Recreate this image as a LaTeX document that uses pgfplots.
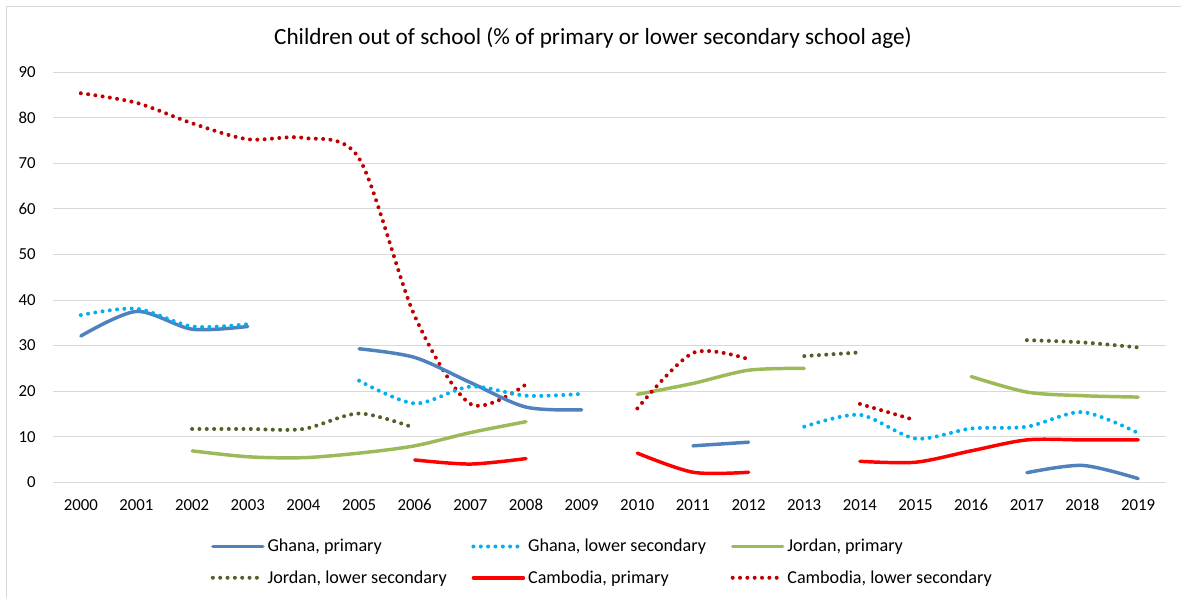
\documentclass[border=0pt]{standalone}
\usepackage{fontspec}
\setmainfont{Carlito}
\usepackage{pgfplots}
\pgfplotsset{compat=1.18}

\definecolor{ghanaP}{HTML}{4F81BD}
\definecolor{ghanaL}{HTML}{00B0F0}
\definecolor{jordanP}{HTML}{9BBB59}
\definecolor{jordanL}{HTML}{4F6228}
\definecolor{cambP}{HTML}{FF0000}
\definecolor{cambL}{HTML}{C00000}
\definecolor{gridgray}{HTML}{D9D9D9}

\tikzset{
  solidser/.style={line width=2.6pt, line cap=round, line join=round, smooth, tension=0.5},
  dotser/.style={line width=3pt, line cap=round, dash pattern=on 0pt off 5.5pt, smooth, tension=0.5},
}

\begin{document}
\begin{tikzpicture}
\useasboundingbox (0,0) rectangle (885.75pt,-448.5pt);
% chart frame (top and left edges)
\draw[gridgray, line width=0.9pt] (4.9pt,-448.5pt) -- (4.9pt,-4.9pt) -- (885.75pt,-4.9pt);
\node[font=\fontsize{17.4}{20}\selectfont] at (444.75pt,-28.5pt)
  {Children out of school (\% of primary or lower secondary school age)};

\begin{axis}[
  at={(39.75pt,-361.7pt)}, anchor=south west,
  scale only axis, width=834.75pt, height=307.5pt,
  xmin=1999.5, xmax=2019.5, ymin=0, ymax=90,
  xtick={2000,...,2019}, ytick={0,10,...,90},
  ymajorgrids, grid style={gridgray, line width=0.75pt},
  axis line style={draw=none},
  tick style={draw=none},
  /pgf/number format/assume math mode=true,
  /pgf/number format/1000 sep={},
  tick label style={font=\fontsize{12.6}{15}\selectfont, text=black},
  xticklabel style={anchor=base, yshift=-21.5pt, inner sep=0pt},
  yticklabel style={anchor=east, xshift=-12.75pt, inner sep=0pt},
  clip=false,
  legend columns=3,
  legend cell align=left,
  legend image code/.code={\draw[#1] (0pt,0pt) -- (37.5pt,0pt);},
  legend style={
    at={(0.138,-0.1285)}, anchor=north west,
    draw=none, fill=none,
    font=\fontsize{13.6}{16}\selectfont,
    row sep=10.5pt,
    nodes={inner sep=1pt},
    /tikz/every odd column/.append style={column sep=1pt},
    /tikz/every even column/.append style={column sep=17.5pt},
  },
]
% Ghana, primary
\addplot[ghanaP, solidser] coordinates {(2000,32.1) (2001,37.5) (2002,33.6) (2003,34.2)};
\addlegendentry{Ghana, primary}
% Ghana, lower secondary
\addplot[ghanaL, dotser] coordinates {(2000,36.7) (2001,38.1) (2002,34.2) (2003,34.7)};
\addlegendentry{Ghana, lower secondary}
% Jordan, primary
\addplot[jordanP, solidser] coordinates {(2002,6.9) (2003,5.6) (2004,5.4) (2005,6.4) (2006,8.0) (2007,10.9) (2008,13.3)};
\addlegendentry{Jordan, primary}
% Jordan, lower secondary
\addplot[jordanL, dotser] coordinates {(2002,11.7) (2003,11.7) (2004,11.7) (2005,15.1) (2006,11.9)};
\addlegendentry{Jordan, lower secondary}
% Cambodia, primary
\addplot[cambP, solidser] coordinates {(2006,4.9) (2007,4.0) (2008,5.2)};
\addlegendentry{Cambodia, primary}
% Cambodia, lower secondary
\addplot[cambL, dotser] coordinates {(2000,85.4) (2001,83.3) (2002,78.8) (2003,75.3) (2004,75.6) (2005,71.1) (2006,36.5) (2007,17.2) (2008,21.5)};
\addlegendentry{Cambodia, lower secondary}

% remaining segments after gaps in the series
\addplot[ghanaP, solidser, forget plot] coordinates {(2005,29.3) (2006,27.4) (2007,21.9) (2008,16.5) (2009,15.9)};
\addplot[ghanaP, solidser, forget plot] coordinates {(2011,8.0) (2012,8.8)};
\addplot[ghanaP, solidser, forget plot] coordinates {(2017,2.1) (2018,3.7) (2019,0.8)};

\addplot[ghanaL, dotser, forget plot] coordinates {(2005,22.3) (2006,17.3) (2007,21.0) (2008,19.0) (2009,19.4)};
\addplot[ghanaL, dotser, forget plot] coordinates {(2013,12.2) (2014,14.8) (2015,9.6) (2016,11.8) (2017,12.2) (2018,15.4) (2019,10.8)};

\addplot[jordanP, solidser, forget plot] coordinates {(2010,19.3) (2011,21.7) (2012,24.6) (2013,25.0)};
\addplot[jordanP, solidser, forget plot] coordinates {(2016,23.2) (2017,19.8) (2018,19.0) (2019,18.7)};

\addplot[jordanL, dotser, forget plot] coordinates {(2013,27.7) (2014,28.5)};
\addplot[jordanL, dotser, forget plot] coordinates {(2017,31.2) (2018,30.7) (2019,29.6)};

\addplot[cambP, solidser, forget plot] coordinates {(2010,6.4) (2011,2.2) (2012,2.2)};
\addplot[cambP, solidser, forget plot] coordinates {(2014,4.6) (2015,4.4) (2016,6.9) (2017,9.3) (2018,9.3) (2019,9.3)};

\addplot[cambL, dotser, forget plot] coordinates {(2010,16.2) (2011,28.4) (2012,27.0)};
\addplot[cambL, dotser, forget plot] coordinates {(2014,17.2) (2015,13.6)};
\end{axis}
\end{tikzpicture}
\end{document}
